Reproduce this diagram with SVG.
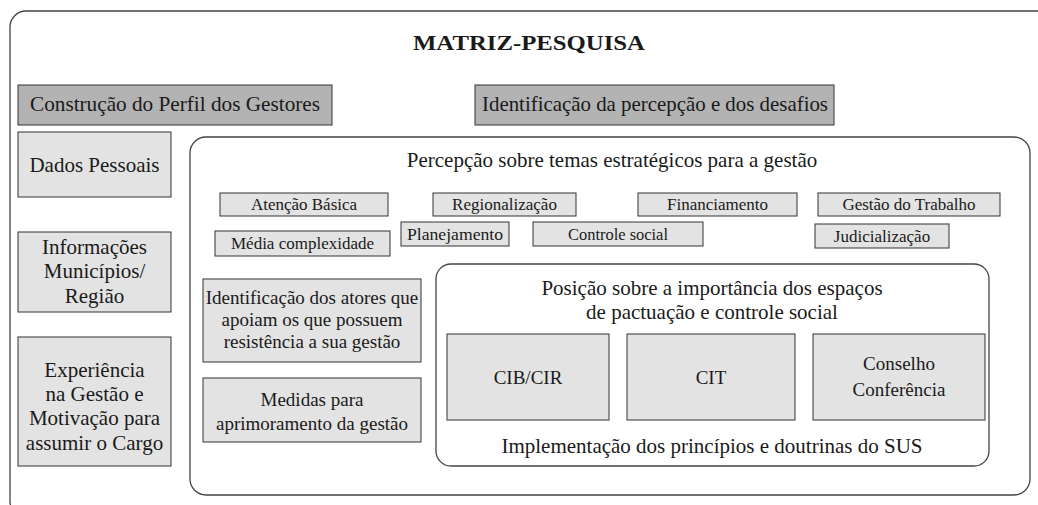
<svg xmlns="http://www.w3.org/2000/svg" width="1038" height="505" viewBox="0 0 1038 505" font-family="'Liberation Serif','Times New Roman',serif">
<style>
text{font-family:"Liberation Serif","Times New Roman",serif;fill:#1a1a1a;text-anchor:middle}
.frame{fill:none;stroke:#444;stroke-width:1.3}
.dark{fill:#b3b3b3;stroke:#333;stroke-width:1}
.light{fill:#e3e3e3;stroke:#333;stroke-width:1}
.t21{font-size:21px}
.t19{font-size:19px}
.t17{font-size:17px}
.title{font-size:22px;font-weight:bold}
</style>
<rect width="1038" height="505" fill="#fff"/>
<g id="frames">
<rect class="frame" x="10" y="11" width="1060" height="506" rx="16"/>
<rect class="frame" x="190" y="137" width="840" height="358" rx="16"/>
<rect class="frame" x="436" y="264" width="553" height="202" rx="15"/>
</g>
<text class="title" x="529" y="50" textLength="232" lengthAdjust="spacingAndGlyphs">MATRIZ-PESQUISA</text>
<g id="perfil"><rect class="dark" x="18" y="85" width="314" height="40"/><text class="t21" x="175" y="111" textLength="290" lengthAdjust="spacingAndGlyphs">Construção do Perfil dos Gestores</text></g>
<g id="identificacao"><rect class="dark" x="475" y="85" width="359" height="40"/><text class="t21" x="655" y="111" textLength="346" lengthAdjust="spacingAndGlyphs">Identificação da percepção e dos desafios</text></g>
<g id="dados"><rect class="light" x="18" y="132" width="153" height="65"/><text class="t21" x="94.5" y="172">Dados Pessoais</text></g>
<g id="informacoes"><rect class="light" x="18" y="232" width="153" height="80"/><text class="t21" x="94.5" y="254">Informações</text><text class="t21" x="94.5" y="278">Municípios/</text><text class="t21" x="94.5" y="303">Região</text></g>
<g id="experiencia"><rect class="light" x="18" y="337" width="153" height="129"/><text class="t21" x="94.5" y="377">Experiência</text><text class="t21" x="94.5" y="401">na Gestão e</text><text class="t21" x="94.5" y="425">Motivação para</text><text class="t21" x="94.5" y="450">assumir o Cargo</text></g>
<text class="t21" x="612" y="167">Percepção sobre temas estratégicos para a gestão</text>
<g id="atencao"><rect class="light" x="220" y="193" width="168" height="23"/><text class="t17" x="304" y="210">Atenção Básica</text></g>
<g id="regionalizacao"><rect class="light" x="433" y="193" width="143" height="23"/><text class="t17" x="504.5" y="210">Regionalização</text></g>
<g id="financiamento"><rect class="light" x="638" y="193" width="159" height="23"/><text class="t17" x="717.5" y="210">Financiamento</text></g>
<g id="gestao-trabalho"><rect class="light" x="818" y="193" width="182" height="23"/><text class="t17" x="909" y="210">Gestão do Trabalho</text></g>
<g id="media"><rect class="light" x="215" y="231" width="175" height="25"/><text class="t17" x="302.5" y="249">Média complexidade</text></g>
<g id="planejamento"><rect class="light" x="401" y="222" width="108" height="24"/><text class="t17" x="455" y="240" textLength="96" lengthAdjust="spacingAndGlyphs">Planejamento</text></g>
<g id="controle"><rect class="light" x="533" y="222" width="170" height="24"/><text class="t17" x="618" y="240" textLength="100" lengthAdjust="spacingAndGlyphs">Controle social</text></g>
<g id="judicializacao"><rect class="light" x="815" y="224" width="134" height="24"/><text class="t17" x="882" y="242">Judicialização</text></g>
<g id="atores"><rect class="light" x="203" y="279" width="218" height="83"/><text class="t19" x="312" y="304">Identificação dos atores que</text><text class="t19" x="312" y="326">apoiam os que possuem</text><text class="t19" x="312" y="348">resistência a sua gestão</text></g>
<g id="medidas"><rect class="light" x="203" y="378" width="218" height="64"/><text class="t19" x="312" y="406">Medidas para</text><text class="t19" x="312" y="430">aprimoramento da gestão</text></g>
<text class="t21" x="712" y="295">Posição sobre a importância dos espaços</text>
<text class="t21" x="712" y="319">de pactuação e controle social</text>
<g id="cib"><rect class="light" x="447" y="334" width="162" height="86"/><text class="t19" x="528" y="384">CIB/CIR</text></g>
<g id="cit"><rect class="light" x="627" y="334" width="168" height="86"/><text class="t19" x="711" y="384">CIT</text></g>
<g id="conselho"><rect class="light" x="813" y="334" width="172" height="86"/><text class="t19" x="899" y="370">Conselho</text><text class="t19" x="899" y="396">Conferência</text></g>
<text class="t21" x="712" y="453">Implementação dos princípios e doutrinas do SUS</text>
</svg>
